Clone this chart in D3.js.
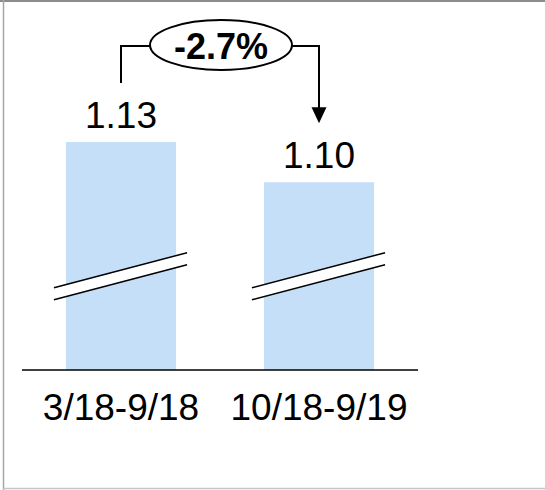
<!DOCTYPE html>
<html>
<head>
<meta charset="utf-8">
<script src="https://cdn.jsdelivr.net/npm/d3@7"></script>
<style>
  html, body { margin: 0; padding: 0; background: #fff; }
  #viz { width: 545px; height: 490px; }
  text { font-family: "Liberation Sans", Arial, sans-serif; fill: #000; }
</style>
</head>
<body>
<div id="viz"></div>
<script>
// periods and the ratio for each
const categories = ["3/18-9/18", "10/18-9/19"];
const values = [1.13, 1.10];
const valueLabels = ["1.13", "1.10"];
const changeLabel = "-2.7%";

const W = 545, H = 490;

const svg = d3.select("#viz").append("svg")
  .attr("width", W)
  .attr("height", H);

// frame
svg.append("line").attr("x1", 0).attr("x2", W).attr("y1", 1).attr("y2", 1)
  .attr("stroke", "#8c8c8c").attr("stroke-width", 2);
svg.append("line").attr("x1", 3.5).attr("x2", 3.5).attr("y1", 0).attr("y2", H)
  .attr("stroke", "#a6a6a6").attr("stroke-width", 1.5);
svg.append("line").attr("x1", 3).attr("x2", W).attr("y1", 488.5).attr("y2", 488.5)
  .attr("stroke", "#c4c4c4").attr("stroke-width", 1.5);

const x = d3.scaleBand()
  .domain(categories)
  .range([22, 418])
  .paddingInner(0.444)
  .paddingOuter(0.222);

// axis is broken, so the scale does not start at zero
const y = d3.scaleLinear()
  .domain([0.96, 1.13])
  .range([370, 142]);

const data = categories.map((c, i) => ({ cat: c, value: values[i], label: valueLabels[i] }));

const g = svg.append("g");

g.selectAll("rect.bar")
  .data(data)
  .join("rect")
  .attr("class", "bar")
  .attr("x", d => x(d.cat))
  .attr("y", d => y(d.value))
  .attr("width", x.bandwidth())
  .attr("height", d => y.range()[0] - y(d.value))
  .attr("fill", "#c6dff9");

// break marks across each bar
const breakAt = 1.03;
const slope = -35 / 133;
data.forEach(d => {
  const cx = x(d.cat) + x.bandwidth() / 2;
  const cy = y(breakAt);
  const xl = x(d.cat) - 12, xr = x(d.cat) + x.bandwidth() + 11;
  const yAt = (xx, off) => cy + off + (xx - cx) * slope;
  g.append("path")
    .attr("d", `M${xl},${yAt(xl, -6)}L${xr},${yAt(xr, -6)}L${xr},${yAt(xr, 6)}L${xl},${yAt(xl, 6)}Z`)
    .attr("fill", "#fff");
  [-6, 6].forEach(off => {
    g.append("line")
      .attr("x1", xl).attr("y1", yAt(xl, off))
      .attr("x2", xr).attr("y2", yAt(xr, off))
      .attr("stroke", "#000").attr("stroke-width", 1.5);
  });
});

// baseline
g.append("line")
  .attr("x1", 22).attr("x2", 418)
  .attr("y1", y.range()[0]).attr("y2", y.range()[0])
  .attr("stroke", "#000").attr("stroke-width", 1.5);

// value labels
g.selectAll("text.val")
  .data(data)
  .join("text")
  .attr("class", "val")
  .attr("x", d => x(d.cat) + x.bandwidth() / 2)
  .attr("y", d => y(d.value) - 14)
  .attr("text-anchor", "middle")
  .attr("font-size", 37)
  .text(d => d.label);

// category labels
g.selectAll("text.cat")
  .data(data)
  .join("text")
  .attr("class", "cat")
  .attr("x", d => x(d.cat) + x.bandwidth() / 2)
  .attr("y", 420)
  .attr("text-anchor", "middle")
  .attr("font-size", 37)
  .text(d => d.cat);

// change callout
const x0 = x(categories[0]) + x.bandwidth() / 2;
const x1 = x(categories[1]) + x.bandwidth() / 2;
const lineY = 46;
const ell = { cx: 221, cy: 45, rx: 71, ry: 25 };

g.append("path")
  .attr("d", `M${x0},${y(values[0]) - 59}V${lineY}H${ell.cx - ell.rx}`)
  .attr("fill", "none").attr("stroke", "#000").attr("stroke-width", 2);

const tipY = y(values[1]) - 59;
g.append("path")
  .attr("d", `M${ell.cx + ell.rx},${lineY}H${x1}V${tipY - 14}`)
  .attr("fill", "none").attr("stroke", "#000").attr("stroke-width", 2);
g.append("path")
  .attr("d", `M${x1 - 7.5},${tipY - 16}L${x1 + 7.5},${tipY - 16}L${x1},${tipY}Z`)
  .attr("fill", "#000");

g.append("ellipse")
  .attr("cx", ell.cx).attr("cy", ell.cy)
  .attr("rx", ell.rx).attr("ry", ell.ry)
  .attr("fill", "#fff").attr("stroke", "#000").attr("stroke-width", 2);

g.append("text")
  .attr("x", ell.cx)
  .attr("y", 59)
  .attr("text-anchor", "middle")
  .attr("font-size", 36)
  .attr("font-weight", "bold")
  .text(changeLabel);
</script>
</body>
</html>
